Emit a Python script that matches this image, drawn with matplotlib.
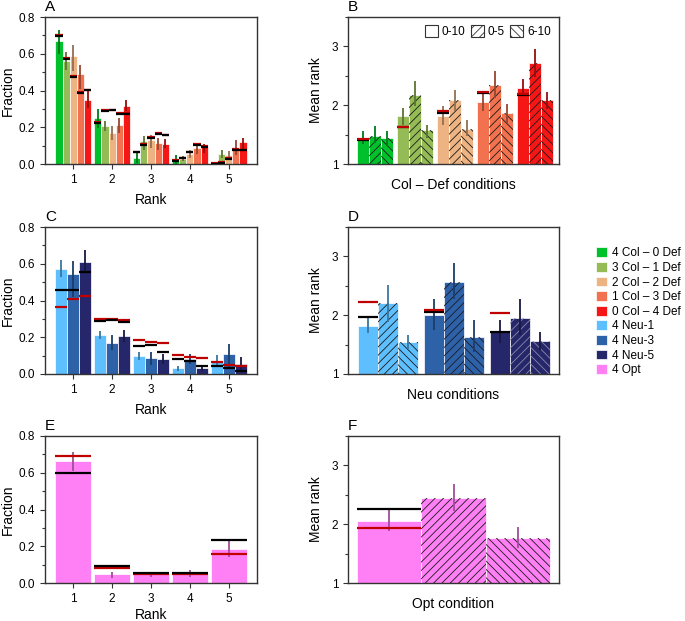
import matplotlib
matplotlib.use('Agg')
import matplotlib.pyplot as plt
import numpy as np
from matplotlib.patches import Patch
from matplotlib.ticker import MultipleLocator
import matplotlib.colors as mcolors

plt.rcParams['font.family'] = ['Liberation Sans', 'DejaVu Sans']
plt.rcParams['hatch.linewidth'] = 0.6

# ---------------- data ----------------
ranks = [1, 2, 3, 4, 5]
col_def_labels = ['4 Col – 0 Def', '3 Col – 1 Def', '2 Col – 2 Def', '1 Col – 3 Def', '0 Col – 4 Def']
neu_labels = ['4 Neu-1', '4 Neu-3', '4 Neu-5']
opt_labels = ['4 Opt']
col_def_colors = ['#00C12B', '#94BB56', '#EDB382', '#F2714F', '#F51616']
neu_colors = ['#5EBFFF', '#2E62A8', '#26266A']
opt_colors = ['#FF80F5']
window_labels = ['0-10', '0-5', '6-10']

# Panel A: fraction at each rank (rows: conditions, cols: ranks 1..5)
a_frac = [[0.668, 0.252, 0.033, 0.024, 0.005],
          [0.560, 0.209, 0.123, 0.029, 0.056],
          [0.590, 0.169, 0.129, 0.056, 0.051],
          [0.490, 0.214, 0.114, 0.087, 0.082],
          [0.350, 0.318, 0.111, 0.096, 0.118]]
a_lo = [[0.600, 0.196, 0.005, 0.000, 0.000],
        [0.510, 0.178, 0.078, 0.015, 0.032],
        [0.505, 0.132, 0.087, 0.033, 0.027],
        [0.410, 0.169, 0.078, 0.056, 0.051],
        [0.305, 0.287, 0.087, 0.060, 0.082]]
a_hi = [[0.730, 0.300, 0.069, 0.047, 0.013],
        [0.610, 0.232, 0.150, 0.045, 0.074],
        [0.650, 0.205, 0.160, 0.078, 0.069],
        [0.540, 0.250, 0.142, 0.111, 0.132],
        [0.405, 0.350, 0.136, 0.111, 0.142]]
a_red = [[0.700, 0.227, 0.067, 0.020, 0.005],
         [0.575, 0.292, 0.109, 0.034, 0.009],
         [0.480, 0.296, 0.147, 0.067, 0.031],
         [0.390, 0.276, 0.169, 0.107, 0.080],
         [0.405, 0.276, 0.160, 0.096, 0.078]]
a_black = [[0.696, 0.223, 0.063, 0.016, 0.002],
           [0.571, 0.289, 0.105, 0.030, 0.005],
           [0.476, 0.293, 0.143, 0.063, 0.027],
           [0.386, 0.272, 0.165, 0.103, 0.076],
           [0.402, 0.271, 0.156, 0.092, 0.075]]

# Panel B: mean rank per time window (rows: conditions, cols: windows)
b_mean = [[1.443, 1.483, 1.437],
          [1.810, 2.180, 1.570],
          [1.810, 2.080, 1.597],
          [2.060, 2.350, 1.870],
          [2.295, 2.720, 2.085]]
b_lo = [[1.347, 1.350, 1.300],
        [1.670, 1.980, 1.440],
        [1.670, 1.898, 1.470],
        [1.900, 2.125, 1.700],
        [2.150, 2.480, 1.930]]
b_hi = [[1.568, 1.640, 1.557],
        [1.955, 2.410, 1.670],
        [1.980, 2.256, 1.744],
        [2.210, 2.580, 2.020],
        [2.450, 2.960, 2.220]]
b_red = [1.420, 1.635, 1.898, 2.220, 2.185]
b_black = [1.410, 1.625, 1.870, 2.212, 2.175]

# Panel C
c_frac = [[0.570, 0.214, 0.096, 0.033, 0.071],
          [0.546, 0.169, 0.089, 0.082, 0.107],
          [0.610, 0.205, 0.082, 0.031, 0.056]]
c_lo = [[0.530, 0.192, 0.074, 0.015, 0.047],
        [0.420, 0.129, 0.047, 0.056, 0.038],
        [0.555, 0.174, 0.056, 0.016, 0.016]]
c_hi = [[0.620, 0.232, 0.120, 0.042, 0.102],
        [0.613, 0.214, 0.120, 0.107, 0.165],
        [0.673, 0.238, 0.107, 0.049, 0.093]]
c_black = [[0.455, 0.287, 0.152, 0.080, 0.042],
           [0.455, 0.292, 0.156, 0.073, 0.033],
           [0.553, 0.283, 0.118, 0.045, 0.018]]
c_red = [[0.365, 0.298, 0.183, 0.103, 0.064],
         [0.408, 0.300, 0.172, 0.093, 0.049],
         [0.426, 0.292, 0.169, 0.087, 0.044]]

# Panel D
d_mean = [[1.8125, 2.200, 1.540],
          [2.010, 2.570, 1.630],
          [1.716, 1.960, 1.557]]
d_lo = [[1.690, 1.886, 1.430],
        [1.744, 2.280, 1.375],
        [1.528, 1.670, 1.400]]
d_hi = [[1.970, 2.510, 1.660],
        [2.280, 2.880, 1.915],
        [1.926, 2.270, 1.716]]
d_black = [1.970, 2.050, 1.716]
d_red = [2.216, 2.085, 2.040]

# Panel E
e_frac = [[0.663, 0.047, 0.047, 0.047, 0.186]]
e_lo = [[0.608, 0.029, 0.035, 0.035, 0.144]]
e_hi = [[0.714, 0.062, 0.062, 0.071, 0.226]]
e_red = [[0.689, 0.080, 0.050, 0.050, 0.160]]
e_black = [[0.596, 0.090, 0.057, 0.057, 0.235]]

# Panel F
f_mean = [[2.057, 2.443, 1.773]]
f_lo = [[1.892, 2.216, 1.590]]
f_hi = [[2.244, 2.690, 1.960]]
f_black = [2.260]
f_red = [1.930]

hatches = ['', '////', '\\\\\\\\']
RED = '#C00000'

def darker(c, f=0.62):
    r, g, b = mcolors.to_rgb(c)
    return (r * f, g * f, b * f)

W, H = 685, 621
fig = plt.figure(figsize=(W / 100, H / 100), dpi=100)

def mk_axes(x0, y0, x1, y1):
    ax = fig.add_axes([x0 / W, 1 - y1 / H, (x1 - x0) / W, (y1 - y0) / H])
    for s in ax.spines.values():
        s.set_linewidth(1.0)
        s.set_color('#333333')
    ax.tick_params(labelsize=8.5, length=3.5, width=0.8, color='#333333')
    ax.tick_params(which='minor', length=2, width=0.8, color='#333333')
    return ax

def rank_panel(ax, frac, lo, hi, red, black, colors, letter, xpad=5):
    n = len(frac)
    span = 0.92
    w = span / n
    for i in range(n):
        xs = np.array(ranks) + (i - (n - 1) / 2) * w
        ax.bar(xs, frac[i], width=w, color=colors[i], edgecolor='white', linewidth=0.5, zorder=2)
        ax.vlines(xs, lo[i], hi[i], color=darker(colors[i]), lw=1.3, zorder=3)
        ax.hlines(red[i], xs - w / 2, xs + w / 2, color=RED, lw=1.6, zorder=4)
        ax.hlines(black[i], xs - w / 2, xs + w / 2, color='black', lw=1.6, zorder=4)
    ax.set_xlim(0.27, 5.73)
    ax.set_ylim(0, 0.8)
    ax.set_xticks(ranks)
    ax.set_yticks([0, 0.2, 0.4, 0.6, 0.8])
    ax.set_yticklabels(['0.0', '0.2', '0.4', '0.6', '0.8'])
    ax.yaxis.set_minor_locator(MultipleLocator(0.1))
    ax.set_xlabel('Rank', fontsize=10, labelpad=xpad)
    ax.set_ylabel('Fraction', fontsize=10, labelpad=3)
    ax.text(0.0, 1.02, letter, transform=ax.transAxes, fontsize=11, ha='left', va='bottom')

def mean_panel(ax, mean, lo, hi, red, black, colors, letter, xlabel, bw, gap, xlim, hatch_cols):
    n = len(mean)
    for i in range(n):
        gc = i * (3 * bw + gap)
        for j in range(3):
            x = gc + (j - 1) * bw
            ax.bar(x, mean[i][j] - 1, bottom=1, width=bw, color=colors[i],
                   edgecolor='white', linewidth=0.5, zorder=2)
            if hatches[j]:
                ax.bar(x, mean[i][j] - 1, bottom=1, width=bw, facecolor='none',
                       edgecolor=hatch_cols[i], linewidth=0, hatch=hatches[j], zorder=2.5)
            ax.vlines(x, lo[i][j], hi[i][j], color=darker(colors[i]), lw=1.3, zorder=3)
        x0 = gc - bw
        ax.hlines(black[i], x0 - bw / 2, x0 + bw / 2, color='black', lw=1.6, zorder=4)
        ax.hlines(red[i], x0 - bw / 2, x0 + bw / 2, color=RED, lw=1.6, zorder=4)
    ax.set_xlim(*xlim)
    ax.set_ylim(1, 3.5)
    ax.set_xticks([])
    ax.set_yticks([1, 2, 3])
    ax.yaxis.set_minor_locator(MultipleLocator(0.5))
    ax.set_xlabel(xlabel, fontsize=10, labelpad=10)
    ax.set_ylabel('Mean rank', fontsize=10, labelpad=6)
    ax.text(0.0, 1.02, letter, transform=ax.transAxes, fontsize=11, ha='left', va='bottom')

# A
axA = mk_axes(45, 17, 257, 164)
rank_panel(axA, a_frac, a_lo, a_hi, a_red, a_black, col_def_colors, 'A')
# C
axC = mk_axes(45, 227, 257, 374)
rank_panel(axC, c_frac, c_lo, c_hi, c_red, c_black, neu_colors, 'C')
# E
axE = mk_axes(45, 436, 257, 583)
rank_panel(axE, e_frac, e_lo, e_hi, e_red, e_black, opt_colors, 'E', xpad=2.5)

# B: bar width 0.3, group gap 0.1 (1 unit = 40 px)
axB = mk_axes(348, 17, 559, 164)
mean_panel(axB, b_mean, b_lo, b_hi, b_red, b_black, col_def_colors, 'B',
           'Col – Def conditions', 0.3, 0.1, (-0.675, 4.6), ['#1a1a1a'] * 5)
leg_handles = [Patch(facecolor='white', edgecolor='#333333', hatch=h, linewidth=0.8) for h in hatches]
axB.legend(leg_handles, window_labels, loc='upper right', bbox_to_anchor=(1.0, 1.0), ncol=3,
           frameon=False, fontsize=8.5, handlelength=1.1, handleheight=1.1,
           handletextpad=0.3, columnspacing=0.5, borderaxespad=0.3)

# D
axD = mk_axes(348, 227, 559, 374)
mean_panel(axD, d_mean, d_lo, d_hi, d_red, d_black, neu_colors, 'D',
           'Neu conditions', 0.3016, 0.0952, (-0.60, 2.59), ['#1a1a1a', '#1a1a2a', '#8a8aaa'])

# F
axF = mk_axes(348, 436, 559, 583)
mean_panel(axF, f_mean, f_lo, f_hi, f_red, f_black, opt_colors, 'F',
           'Opt condition', 1.0, 0.0, (-1.648, 1.648), ['#1a1a1a'])

# Figure legend
all_labels = col_def_labels + neu_labels + opt_labels
all_colors = col_def_colors + neu_colors + opt_colors
handles = [Patch(facecolor=c, edgecolor='white', linewidth=0.5) for c in all_colors]
fig.legend(handles, all_labels, loc='upper left', bbox_to_anchor=(594 / W, 1 - 245 / H),
           frameon=False, fontsize=8.5, handlelength=0.9, handleheight=0.9,
           handletextpad=0.4, labelspacing=0.22, borderaxespad=0, borderpad=0.2)

fig.savefig('out.png', dpi=100)
